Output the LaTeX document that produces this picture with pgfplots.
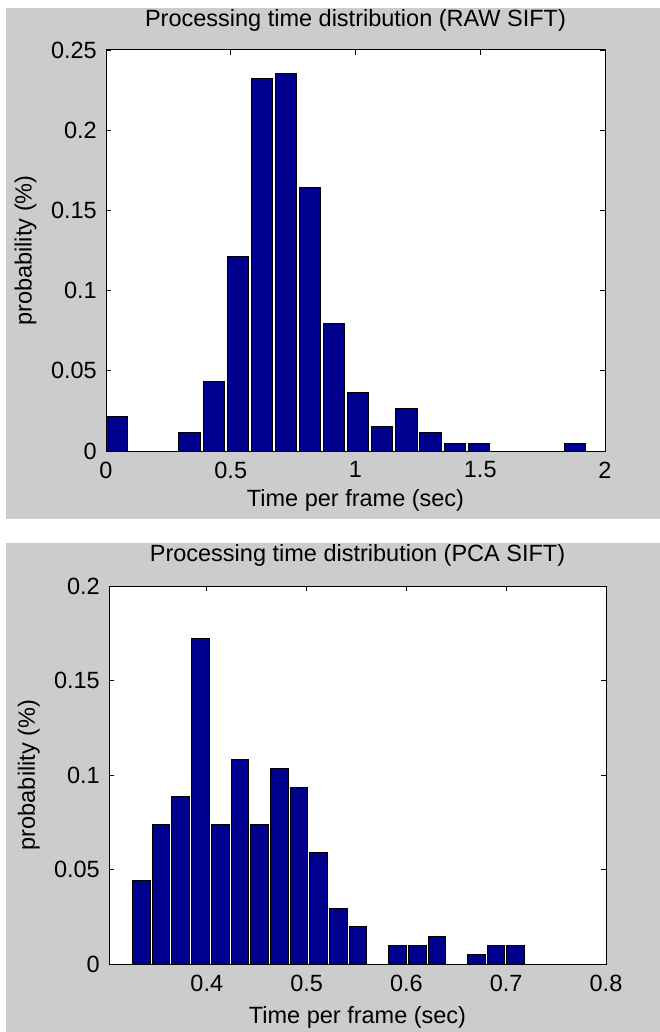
\documentclass[border=0pt]{standalone}
\usepackage{pgfplots}
\pgfplotsset{compat=1.18}
\usepackage{fontspec}
\setmainfont{Liberation Sans}

\definecolor{barblue}{RGB}{0,0,143}
\definecolor{figgray}{RGB}{204,204,204}

\newcommand{\bigfont}{\fontsize{23.5}{28}\selectfont}

% MATLAB-like histogram panel
\pgfplotsset{
  matfig/.style={
    scale only axis,
    anchor=north west,
    ybar, bar shift=0pt,
    ymin=0,
    axis background/.style={fill=white},
    axis line style={black, line width=1pt},
    tick align=inside,
    major tick length=5pt,
    tick style={black, line width=0.8pt},
    scaled ticks=false,
    /pgf/number format/fixed,
    /pgf/number format/precision=2,
    /pgf/number format/assume math mode=true,
    yticklabel style={font=\bigfont, inner sep=0pt, anchor=east, xshift=-9pt},
    xticklabel style={font=\bigfont, inner sep=0pt, anchor=north, yshift=-10.5pt},
    title style={font=\bigfont, at={(0.5,1)}, anchor=base},
    xlabel style={font=\bigfont},
    ylabel style={font=\bigfont},
    xlabel={Time per frame (sec)},
    ylabel={probability (\%)},
  }
}

\begin{document}
\begin{tikzpicture}
\fill[white] (0,0) rectangle (660pt,-1032pt);
\fill[figgray] (6pt,-8pt) rectangle (660pt,-519pt);
\fill[figgray] (6pt,-543pt) rectangle (660pt,-1032pt);

\begin{axis}[matfig,
    at={(106pt,-50pt)}, width=499pt, height=401pt,
    xmin=0, xmax=2, ymax=0.25,
    xtick={0,0.5,1,1.5,2},
    ytick={0,0.05,0.1,0.15,0.2,0.25},
    bar width=0.085,
    title={Processing time distribution (RAW SIFT)},
    title style={yshift=17.5pt},
    xlabel style={at={(axis description cs:0.5,0)}, anchor=base, yshift=-55pt},
    ylabel style={at={(axis description cs:-0.149,0.5)}, anchor=base},
  ]
  \addplot[fill=barblue, draw=black, line width=1pt] coordinates {
    (0.0449,0.0217) (0.3347,0.0115) (0.4313,0.0431) (0.5279,0.1213)
    (0.6245,0.2323) (0.7211,0.2356) (0.8177,0.1644) (0.9143,0.0796)
    (1.0109,0.0363) (1.1075,0.0150) (1.2041,0.0263) (1.3007,0.0115)
    (1.3973,0.0046) (1.4939,0.0046) (1.8803,0.0046)
  };
\end{axis}

\begin{axis}[matfig,
    at={(109pt,-586pt)}, width=497pt, height=378pt,
    xmin=0.302, xmax=0.8, ymax=0.2,
    xtick={0.4,0.5,0.6,0.7,0.8},
    ytick={0,0.05,0.1,0.15,0.2},
    bar width=0.0178,
    title={Processing time distribution (PCA SIFT)},
    title style={yshift=19pt},
    xlabel style={at={(axis description cs:0.5,0)}, anchor=base, yshift=-59pt},
    ylabel style={at={(axis description cs:-0.149,0.5)}, anchor=base},
  ]
  \addplot[fill=barblue, draw=black, line width=1pt] coordinates {
    (0.3345,0.0443) (0.3542,0.0739) (0.3740,0.0887) (0.3937,0.1724)
    (0.4135,0.0739) (0.4332,0.1084) (0.4529,0.0739) (0.4727,0.1034)
    (0.4924,0.0936) (0.5122,0.0591) (0.5319,0.0296) (0.5516,0.0197)
    (0.5911,0.0099) (0.6109,0.0099) (0.6306,0.0148) (0.6701,0.0049)
    (0.6898,0.0099) (0.7096,0.0099)
  };
\end{axis}

\pgfresetboundingbox
\useasboundingbox (0,0) rectangle (660pt,-1032pt);
\end{tikzpicture}
\end{document}
